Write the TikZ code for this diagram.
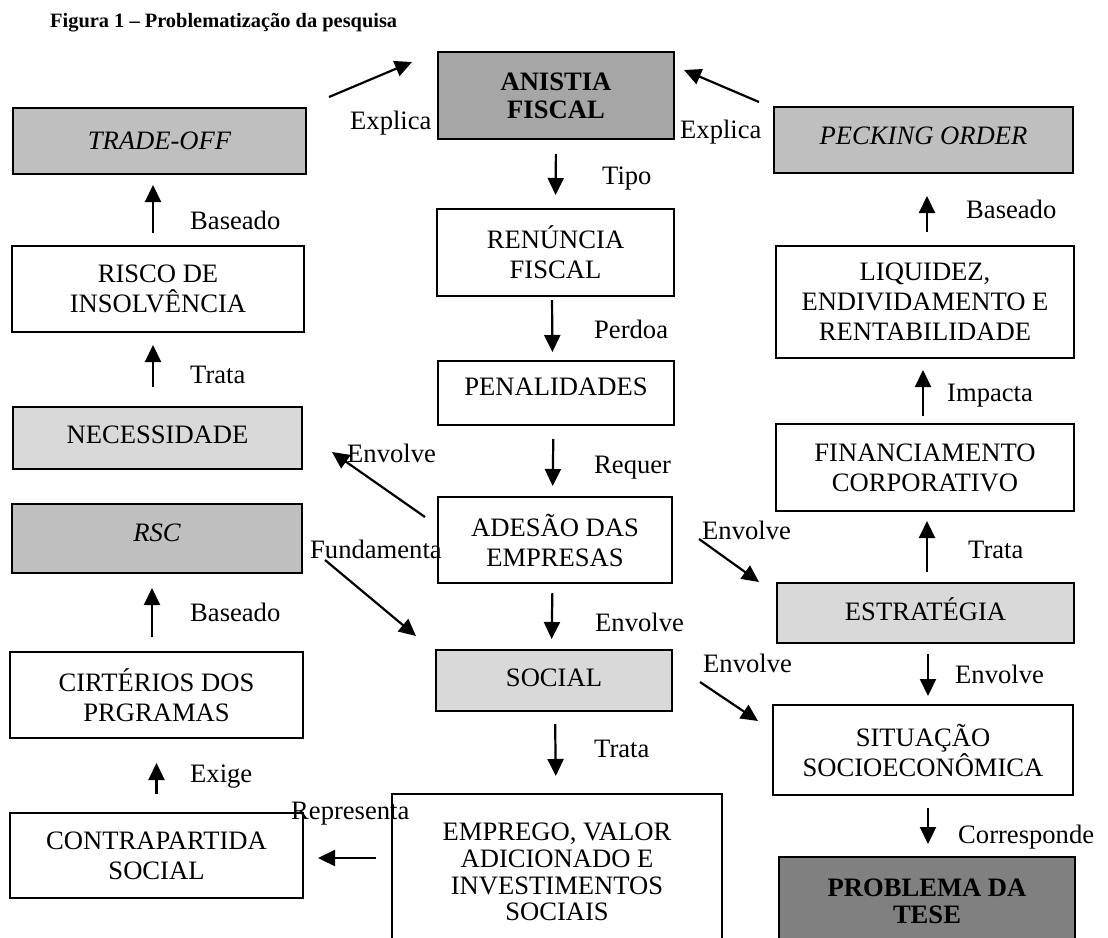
\documentclass[tikz,border=0pt]{standalone}
\usepackage{fontspec}
\setmainfont{Liberation Serif}
\usetikzlibrary{arrows.meta}
\definecolor{shadeDark}{gray}{0.50}
\definecolor{shadeMid}{gray}{0.65}
\definecolor{shadeSoft}{gray}{0.75}
\definecolor{shadeLight}{gray}{0.85}
\begin{document}
\begin{tikzpicture}[x=1pt,y=-1pt,
  box/.style={draw=black, line width=2pt, rectangle, inner sep=0pt, align=center,
              font=\fontsize{26.6pt}{30pt}\selectfont},
  % single-line boxes: text raised a little above the middle
  raised/.style={text height=18pt, text depth=#1},
  lbl/.style={anchor=base west, inner sep=0pt, font=\fontsize{26.6pt}{30pt}\selectfont},
  arr/.style={line width=2.2pt, -{Triangle[length=17pt,width=16pt]}},
]
\useasboundingbox (0,0) rectangle (1108,937);
\clip (0,0) rectangle (1108,937);
\fill[white] (0,0) rectangle (1108,937);

% title
\node[anchor=base west, inner sep=0pt, font=\fontsize{20.4pt}{24pt}\selectfont\bfseries]
  (title) at (50,27) {Figura 1 – Problematização da pesquisa};

% left column
\node[box, raised=2pt, fill=shadeSoft, minimum width=293pt, minimum height=66pt] (tradeoff) at (159.5,141) {\itshape TRADE-OFF};
\node[box, fill=white, minimum width=292pt, minimum height=86pt] (risco) at (158,289) {RISCO DE\\INSOLVÊNCIA};
\node[box, raised=8pt, fill=shadeLight, minimum width=289pt, minimum height=62pt] (necess) at (157.5,438) {NECESSIDADE};
\node[box, raised=13pt, fill=shadeSoft, minimum width=290pt, minimum height=69pt] (rsc) at (157,538.5) {\itshape RSC};
\node[box, fill=white, minimum width=293pt, minimum height=86pt] (criterios) at (156.5,695) {CIRTÉRIOS DOS\\PRGRAMAS};
\node[box, fill=white, minimum width=293pt, minimum height=85pt] (contra) at (156.5,855.5) {CONTRAPARTIDA\\SOCIAL};

% centre column
\node[box, fill=shadeMid, minimum width=236pt, minimum height=87pt, font=\fontsize{26.6pt}{28pt}\selectfont\bfseries] (anistia) at (556,95.5) {ANISTIA\\FISCAL};
\node[box, fill=white, minimum width=237pt, minimum height=87pt] (renuncia) at (555.5,252.5) {RENÚNCIA\\FISCAL};
\node[box, raised=14pt, fill=white, minimum width=236pt, minimum height=64pt] (penal) at (556,393) {PENALIDADES};
\node[box, fill=white, minimum width=234pt, minimum height=86pt] (adesao) at (555,540) {ADESÃO DAS\\EMPRESAS};
\node[box, raised=7pt, fill=shadeLight, minimum width=236pt, minimum height=61pt] (social) at (554,680.5) {SOCIAL};
\node[box, fill=white, minimum width=330pt, minimum height=156pt, font=\fontsize{26.6pt}{26.7pt}\selectfont] (emprego) at (557,872) {EMPREGO, VALOR\\ADICIONADO E\\INVESTIMENTOS\\SOCIAIS};

% right column
\node[box, raised=9pt, fill=shadeSoft, minimum width=299pt, minimum height=66pt] (pecking) at (923.5,140) {\itshape PECKING ORDER};
\node[box, fill=white, minimum width=298pt, minimum height=112pt] (liquidez) at (925,302) {LIQUIDEZ,\\ENDIVIDAMENTO E\\RENTABILIDADE};
\node[box, fill=white, minimum width=298pt, minimum height=87pt] (financ) at (925,467.5) {FINANCIAMENTO\\CORPORATIVO};
\node[box, raised=4pt, fill=shadeLight, minimum width=297pt, minimum height=60pt] (estrategia) at (925.5,613) {ESTRATÉGIA};
\node[box, fill=white, minimum width=300pt, minimum height=90pt] (situacao) at (923,750) {SITUAÇÃO\\SOCIOECONÔMICA};
\node[box, fill=shadeDark, minimum width=296pt, minimum height=89pt, font=\fontsize{26.6pt}{27pt}\selectfont\bfseries] (problema) at (927,901.5) {PROBLEMA DA\\TESE};

% free ends of the slanted connectors
\coordinate (explL0) at (329,97);   \coordinate (explL1) at (412,62);
\coordinate (explR0) at (759,102);  \coordinate (explR1) at (684,70);
\coordinate (envN0) at (425,517);   \coordinate (envN1) at (332,452);
\coordinate (fund0) at (325,560);   \coordinate (fund1) at (416,636);
\coordinate (envE0) at (699,539);   \coordinate (envE1) at (759,582);
\coordinate (envS0) at (700,682);   \coordinate (envS1) at (758,721);

% slanted connectors
\draw[arr] (explL0) -- (explL1);
\draw[arr] (explR0) -- (explR1);
\draw[arr] (envN0) -- (envN1);
\draw[arr] (fund0) -- (fund1);
\draw[arr] (envE0) -- (envE1);
\draw[arr] (envS0) -- (envS1);

% centre column connectors
\draw[arr, shorten <=14pt, shorten >=13pt] (anistia.south) -- (renuncia.north);
\draw[arr, shorten <=3pt, shorten >=8pt] ([xshift=-3.5pt]renuncia.south) -- ([xshift=-3.5pt]penal.north);
\draw[arr, shorten <=13pt, shorten >=10pt] ([xshift=-2.5pt]penal.south) -- ([xshift=-2.5pt]adesao.north);
\draw[arr, shorten <=9pt, shorten >=10pt] ([xshift=-2.5pt]adesao.south) -- ([xshift=-2.5pt]social.north);
\draw[arr, shorten <=12pt, shorten >=17pt] ([xshift=1pt]social.south) -- ([xshift=-1pt]emprego.north);
\draw[arr, shorten <=15pt, shorten >=14pt] ([yshift=-2.5pt]emprego.west |- contra.east) -- ([yshift=-2.5pt]contra.east);

% left column connectors
\draw[arr, shorten <=18pt, shorten >=24pt] (contra.north) -- (criterios.south);
\draw[arr, shorten <=14pt, shorten >=14pt] ([xshift=-4.5pt]criterios.north) -- ([xshift=-5pt]rsc.south);
\draw[arr, shorten <=19pt, shorten >=12pt] ([xshift=-4.5pt]necess.north) -- ([xshift=-5pt]risco.south);
\draw[arr, shorten <=12pt, shorten >=10pt] ([xshift=-5pt]risco.north) -- ([xshift=-6.5pt]tradeoff.south);

% right column connectors
\draw[arr, shorten <=13pt, shorten >=22pt] ([xshift=2pt]liquidez.north) -- ([xshift=3.5pt]pecking.south);
\draw[arr, shorten <=7pt, shorten >=11pt] ([xshift=-2pt]financ.north) -- ([xshift=-2pt]liquidez.south);
\draw[arr, shorten <=10pt, shorten >=9pt] ([xshift=1.5pt]estrategia.north) -- ([xshift=2pt]financ.south);
\draw[arr, shorten <=10pt, shorten >=8pt] ([xshift=2.5pt]estrategia.south) -- ([xshift=5pt]situacao.north);
\draw[arr, shorten <=12pt, shorten >=12pt] ([xshift=5pt]situacao.south) -- ([xshift=1pt]problema.north);

% connector labels
\node[lbl] (lExplL) at (350,129) {Explica};
\node[lbl] (lExplR) at (680,138) {Explica};
\node[lbl] (lTipo) at (602,184) {Tipo};
\node[lbl] (lPerdoa) at (594,338) {Perdoa};
\node[lbl] (lRequer) at (594,473) {Requer};
\node[lbl] (lEnvC) at (595,631) {Envolve};
\node[lbl] (lTrataC) at (594,757) {Trata};
\node[lbl] (lRepr) at (291,819) {Representa};
\node[lbl] (lBasL) at (190,229) {Baseado};
\node[lbl] (lTrataL) at (190,383) {Trata};
\node[lbl] (lBasRsc) at (190,621) {Baseado};
\node[lbl] (lExige) at (190,782) {Exige};
\node[lbl] (lEnvN) at (347,462) {Envolve};
\node[lbl] (lFund) at (310,558) {Fundamenta};
\node[lbl] (lEnvE) at (702,539) {Envolve};
\node[lbl] (lEnvS) at (703,672) {Envolve};
\node[lbl] (lBasR) at (966,218) {Baseado};
\node[lbl] (lImp) at (947,401) {Impacta};
\node[lbl] (lTrataR) at (968,558) {Trata};
\node[lbl] (lEnvR) at (955,683) {Envolve};
\node[lbl] (lCorr) at (958,843) {Corresponde};
\end{tikzpicture}
\end{document}
